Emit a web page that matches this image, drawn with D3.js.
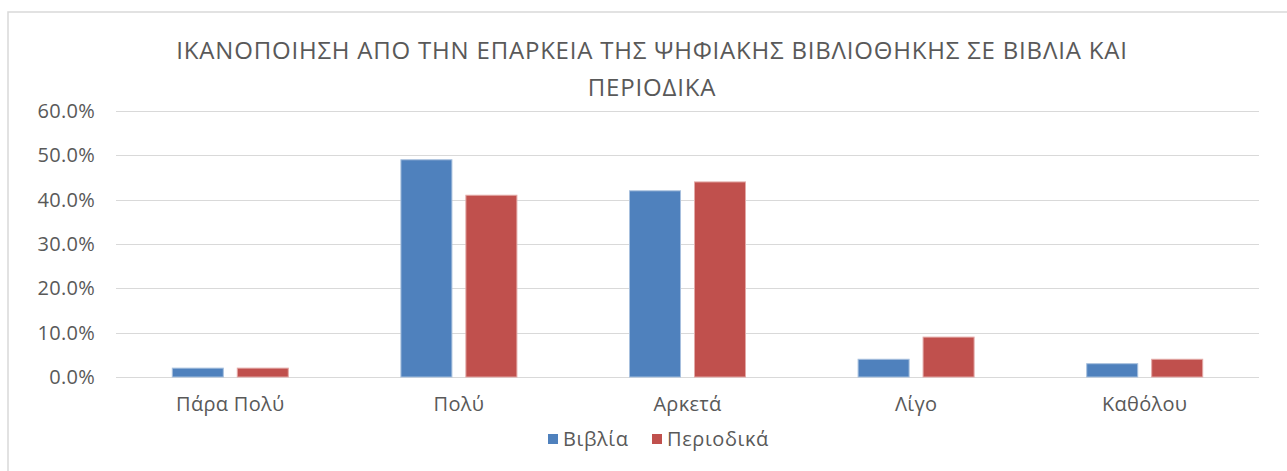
<!DOCTYPE html>
<html lang="el">
  <head>
    <meta charset="UTF-8"/>
    <title>Ικανοποίηση</title>
    <script src="https://d3js.org/d3.v7.min.js"></script>
    <style>
      body { margin: 0; background: #fff; }
      text {
        font-family: 'Open Sans', sans-serif;
        fill: #595959;
      }
      .title { font-size: 24px; letter-spacing: 0.8px; }
      .tick text { font-size: 20px; letter-spacing: 0.3px; }
      .legend text { font-size: 20px; letter-spacing: 0.6px; }
      .grid line { stroke: #d9d9d9; stroke-width: 1.3px; shape-rendering: crispEdges; }
    </style>
  </head>
  <body>
    <script type="text/javascript">

        const categories = ["Πάρα Πολύ", "Πολύ", "Αρκετά", "Λίγο", "Καθόλου"]
        const seriesNames = ["Βιβλία", "Περιοδικά"]
        const books = [0.02, 0.49, 0.42, 0.04, 0.03]
        const periodicals = [0.02, 0.41, 0.44, 0.09, 0.04]
        const yTicks = [0, 0.1, 0.2, 0.3, 0.4, 0.5, 0.6]
        const titleLines = ["ΙΚΑΝΟΠΟΙΗΣΗ ΑΠΟ ΤΗΝ ΕΠΑΡΚΕΙΑ ΤΗΣ ΨΗΦΙΑΚΗΣ ΒΙΒΛΙΟΘΗΚΗΣ ΣΕ ΒΙΒΛΙΑ ΚΑΙ", "ΠΕΡΙΟΔΙΚΑ"]

        const colors = ["#4f81bd", "#c0504d"]
        const strokes = ["#a7c0de", "#e3a9a7"]

        const outerWidth = 1287,
              outerHeight = 471,
              margin = ({top: 111, right: 28, bottom: 94, left: 116}),
              width  = outerWidth - margin.left - margin.right,
              height = outerHeight - margin.top - margin.bottom

        const data = categories.map((c, i) => ({category: c, values: [books[i], periodicals[i]]}))

        const svg = d3.select("body").append("svg")
            .attr("width", outerWidth)
            .attr("height", outerHeight)

        // chart frame (runs off right/bottom edge)
        svg.append("rect")
            .attr("x", 8).attr("y", 12)
            .attr("width", 1300).attr("height", 480)
            .attr("fill", "none")
            .attr("stroke", "#d9d9d9")
            .attr("stroke-width", 1.5)

        const g = svg.append("g")
            .attr("transform", `translate(${margin.left},${margin.top})`)

        const xScale = d3.scaleBand()
            .domain(categories)
            .range([0, width])

        const x1 = d3.scaleBand()
            .domain(seriesNames)
            .range([xScale.bandwidth() / 2 - 58, xScale.bandwidth() / 2 + 58])
            .paddingInner(0.215)

        const yScale = d3.scaleLinear()
            .domain([0, 0.6])
            .range([height, 0])

        // gridlines
        g.append("g")
            .attr("class", "grid")
            .call(d3.axisLeft(yScale).tickValues(yTicks).tickSize(-width).tickFormat(""))
            .call(a => a.select(".domain").remove())

        // y labels
        const yAxisG = g.append("g")
            .call(d3.axisLeft(yScale).tickValues(yTicks).tickSize(0).tickPadding(21).tickFormat(d3.format(".1%")))
        yAxisG.select(".domain").remove()
        yAxisG.selectAll("text").attr("fill", "#595959")

        // bars
        g.selectAll(".group")
            .data(data)
            .join("g")
            .attr("class", "group")
            .attr("transform", d => `translate(${xScale(d.category)},0)`)
            .selectAll("rect")
            .data(d => d.values.map((v, i) => ({series: seriesNames[i], value: v, i})))
            .join("rect")
            .attr("x", d => x1(d.series))
            .attr("width", x1.bandwidth())
            .attr("y", d => yScale(d.value))
            .attr("height", d => height - yScale(d.value))
            .attr("fill", d => colors[d.i])
            .attr("stroke", d => strokes[d.i])
            .attr("stroke-width", 1)

        // x labels
        const xAxisG = g.append("g")
            .attr("transform", `translate(0,${height})`)
            .call(d3.axisBottom(xScale).tickSize(0).tickPadding(20))
        xAxisG.select(".domain").remove()
        xAxisG.selectAll("text").attr("fill", "#595959")

        // title
        svg.append("g")
            .selectAll("text")
            .data(titleLines)
            .join("text")
            .attr("class", "title")
            .attr("text-anchor", "middle")
            .attr("x", 652)
            .attr("y", (d, i) => 59 + i * 37)
            .text(d => d)

        // legend
        const legend = svg.append("g").attr("class", "legend")
        const legendX = [548, 652]
        seriesNames.forEach((s, i) => {
            legend.append("rect")
                .attr("x", legendX[i]).attr("y", 434)
                .attr("width", 10).attr("height", 10)
                .attr("fill", colors[i])
            legend.append("text")
                .attr("x", legendX[i] + 15).attr("y", 446)
                .text(s)
        })

    </script>
  </body>
</html>
